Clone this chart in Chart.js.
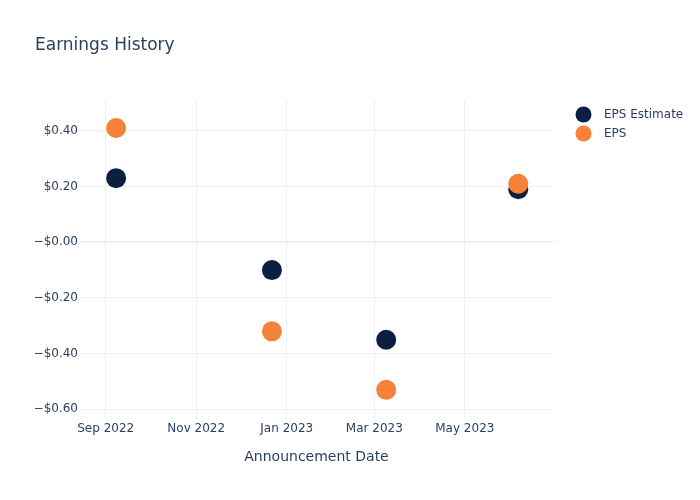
<!DOCTYPE html>
<html>
<head>
<meta charset="utf-8">
<script src="https://cdn.jsdelivr.net/npm/chart.js@4.4.1/dist/chart.umd.min.js"></script>
<style>
  body { margin: 0; background: #fff; }
  #wrap { width: 700px; height: 500px; }
</style>
</head>
<body>
<div id="wrap"><canvas id="chart" width="700" height="500"></canvas></div>
<script>
// data
const announceDates = ['2022-09-08', '2022-12-22', '2023-03-09', '2023-06-06'];
const epsEstimate   = [0.23, -0.10, -0.35, 0.19];
const epsActual     = [0.41, -0.32, -0.53, 0.21];

const xTickDates  = ['2022-09-01', '2022-11-01', '2023-01-01', '2023-03-01', '2023-05-01'];
const xTickLabels = ['Sep 2022', 'Nov 2022', 'Jan 2023', 'Mar 2023', 'May 2023'];
const yTicks      = [-0.6, -0.4, -0.2, 0, 0.2, 0.4];
const yTickLabels = ['\u2212$0.60', '\u2212$0.40', '\u2212$0.20', '\u2212$0.00', '$0.20', '$0.40'];

const FONT = '"DejaVu Sans", sans-serif';
const TEXT = '#2a3f5f';
const GRID = '#ebf0f8';

const toPoints = vals => vals.map((v, i) => ({ x: Date.parse(announceDates[i]), y: v }));

// plotly-like legend on the right side
const sideLegend = {
  id: 'sideLegend',
  afterDraw(chart) {
    const ctx = chart.ctx;
    ctx.save();
    ctx.font = '12px ' + FONT;
    ctx.textBaseline = 'middle';
    chart.data.datasets.forEach((ds, i) => {
      const y = 114.5 + i * 19;
      ctx.fillStyle = ds.backgroundColor;
      ctx.beginPath();
      ctx.arc(583.5, y, 8, 0, Math.PI * 2);
      ctx.fill();
      ctx.fillStyle = TEXT;
      ctx.fillText(ds.label, 604, y + 0.5);
    });
    ctx.restore();
  }
};

new Chart(document.getElementById('chart'), {
  type: 'scatter',
  data: {
    datasets: [
      { label: 'EPS Estimate', data: toPoints(epsEstimate), backgroundColor: '#0c1f40', pointRadius: 10, pointHoverRadius: 10, borderWidth: 0, order: 1 },
      { label: 'EPS', data: toPoints(epsActual), backgroundColor: '#f6823a', pointRadius: 10, pointHoverRadius: 10, borderWidth: 0, order: 0 }
    ]
  },
  options: {
    responsive: false,
    animation: false,
    layout: { padding: { left: 35, right: 147, top: 0, bottom: 0 } },
    plugins: {
      legend: { display: false },
      tooltip: { enabled: false },
      title: {
        display: true,
        text: 'Earnings History',
        align: 'start',
        color: TEXT,
        font: { family: FONT, size: 17, weight: 'normal' },
        padding: { top: 35, bottom: 45 }
      }
    },
    scales: {
      x: {
        type: 'linear',
        min: Date.parse('2022-08-14T16:00:00Z'),
        max: Date.parse('2023-06-29T10:00:00Z'),
        afterBuildTicks: s => { s.ticks = xTickDates.map(d => ({ value: Date.parse(d) })); },
        ticks: {
          callback: (v, i) => xTickLabels[i],
          color: TEXT, font: { family: FONT, size: 12 }, padding: 2, maxRotation: 0
        },
        grid: { color: GRID, drawTicks: false },
        border: { display: false },
        title: {
          display: true, text: 'Announcement Date', color: TEXT,
          font: { family: FONT, size: 14 }, padding: { top: 11, bottom: 34 }
        }
      },
      y: {
        min: -0.6375,
        max: 0.509,
        afterBuildTicks: s => { s.ticks = yTicks.map(v => ({ value: v })); },
        afterFit: s => { s.width = 45; },
        ticks: {
          callback: (v, i) => yTickLabels[i],
          color: TEXT, font: { family: FONT, size: 12 }, padding: 2
        },
        grid: {
          color: GRID,
          lineWidth: c => (c.tick && c.tick.value === 0 ? 2 : 1),
          drawTicks: false
        },
        border: { display: false }
      }
    }
  },
  plugins: [sideLegend]
});
</script>
</body>
</html>
